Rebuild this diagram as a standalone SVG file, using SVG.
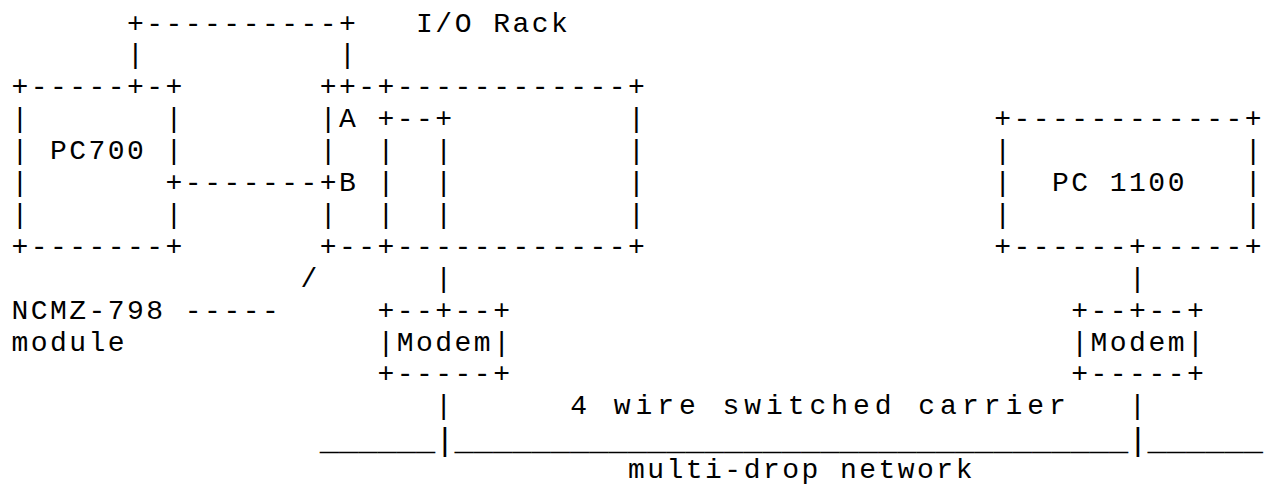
<svg xmlns="http://www.w3.org/2000/svg" width="1265" height="485" viewBox="0 0 1265 485" xml:space="preserve">
<style>
text { font-family: "Liberation Mono", "DejaVu Sans Mono", monospace; font-size: 28px; letter-spacing: 2.47px; fill: #000; white-space: pre; }
text.line { font-size: 32.1px; letter-spacing: 0; }
</style>
<rect width="1265" height="485" fill="#fff"/>
<g id="connectors">
<text x="127.0" y="31.5">+----------+</text>
<text x="127.0" y="63.4">|</text>
<text x="339.0" y="63.4">|</text>
<text x="165.6" y="191.0">+-------+</text>
<text x="435.3" y="286.7">|</text>
<text x="1129.1" y="286.7">|</text>
<text x="435.3" y="414.3">|</text>
<text x="1129.1" y="414.3">|</text>
<text class="line" x="319.7" y="450">______|___________________________________|______</text>
</g>
<g id="io-rack">
<text x="416.1" y="31.5">I/O Rack</text>
<text x="319.7" y="95.3">++-+------------+</text>
<text x="319.7" y="127.2">|A +--+         |</text>
<text x="319.7" y="159.1">|  |  |         |</text>
<text x="339.0" y="191.0">B |  |         |</text>
<text x="319.7" y="222.9">|  |  |         |</text>
<text x="319.7" y="254.8">+--+------------+</text>
</g>
<g id="pc700">
<text x="11.4" y="95.3">+-----+-+</text>
<text x="11.4" y="127.2">|       |</text>
<text x="11.4" y="159.1">| PC700 |</text>
<text x="11.4" y="191.0">|</text>
<text x="11.4" y="222.9">|       |</text>
<text x="11.4" y="254.8">+-------+</text>
</g>
<g id="ncmz-module">
<text x="300.5" y="286.7">/</text>
<text x="11.4" y="318.6">NCMZ-798 -----</text>
<text x="11.4" y="350.5">module</text>
</g>
<g id="modem-left">
<text x="377.5" y="318.6">+--+--+</text>
<text x="377.5" y="350.5">|Modem|</text>
<text x="377.5" y="382.4">+-----+</text>
</g>
<g id="pc1100">
<text x="994.2" y="127.2">+------------+</text>
<text x="994.2" y="159.1">|            |</text>
<text x="994.2" y="191.0">|  PC 1100   |</text>
<text x="994.2" y="222.9">|            |</text>
<text x="994.2" y="254.8">+------+-----+</text>
</g>
<g id="modem-right">
<text x="1071.3" y="318.6">+--+--+</text>
<text x="1071.3" y="350.5">|Modem|</text>
<text x="1071.3" y="382.4">+-----+</text>
</g>
<g id="network">
<text x="570.2" y="414.3" textLength="498" lengthAdjust="spacing">4 wire switched carrier</text>
<text x="628.0" y="478.1">multi-drop network</text>
</g>
</svg>
